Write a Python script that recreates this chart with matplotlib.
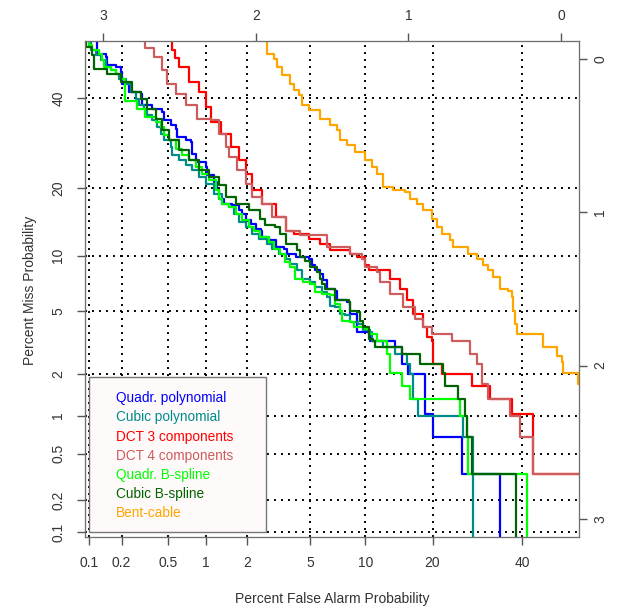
import numpy as np
import matplotlib
matplotlib.use('Agg')
import matplotlib.pyplot as plt
from matplotlib.patches import Rectangle
from statistics import NormalDist

plt.rcParams['font.family'] = ['Liberation Sans', 'DejaVu Sans']

# tick values (percent) on bottom/left, normal deviates on top/right
pct_ticks = [0.1, 0.2, 0.5, 1, 2, 5, 10, 20, 40]
pct_labels = ['0.1', '0.2', '0.5', '1', '2', '5', '10', '20', '40']
dev_ticks = [3, 2, 1, 0]

names = ['Quadr. polynomial', 'Cubic polynomial', 'DCT 3 components', 'DCT 4 components',
         'Quadr. B-spline', 'Cubic B-spline', 'Bent-cable']
colors = ['#0000FF', '#008B8B', '#FF0000', '#CD5C5C', '#00FF00', '#006400', '#FFA500']

# curve vertices as normal deviates: fa read on the top axis, miss on the right axis
quad_poly_fa = [3.048, 3.037, 2.983, 2.971, 2.917, 2.884, 2.873, 2.829, 2.753, 2.742, 2.677, 2.611, 2.600,
                2.557, 2.524, 2.513, 2.459, 2.426, 2.415, 2.393, 2.328, 2.317, 2.273, 2.251, 2.240, 2.208,
                2.153, 2.109, 2.088, 2.066, 2.034, 2.001, 1.968, 1.957, 1.913, 1.870, 1.815, 1.793, 1.739,
                1.654, 1.632, 1.610, 1.577, 1.556, 1.534, 1.479, 1.468, 1.403, 1.381, 1.337, 1.337, 1.294,
                1.250, 1.098, 1.086, 1.054, 1.043, 0.999, 0.890, 0.890, 0.836, 0.836, 0.650, 0.650, 0.399, 0.399]
quad_poly_miss = [-0.2, -0.037, -0.015, 0.039, 0.050, 0.083, 0.159, 0.214, 0.224, 0.301, 0.322, 0.344, 0.399,
                  0.431, 0.453, 0.508, 0.529, 0.541, 0.616, 0.671, 0.704, 0.758, 0.802, 0.856, 0.910, 0.943,
                  0.954, 0.987, 1.008, 1.052, 1.074, 1.107, 1.118, 1.161, 1.183, 1.227, 1.237, 1.270, 1.292,
                  1.303, 1.346, 1.379, 1.401, 1.444, 1.499, 1.510, 1.575, 1.586, 1.662, 1.739, 1.782, 1.782,
                  1.837, 1.837, 1.880, 1.880, 1.989, 2.054, 2.054, 2.314, 2.314, 2.469, 2.469, 2.708, 2.708, 3.5]

cubic_poly_fa = [3.113, 3.081, 3.048, 3.015, 2.983, 2.950, 2.917, 2.895, 2.852, 2.819, 2.786, 2.764, 2.731,
                 2.710, 2.677, 2.644, 2.623, 2.600, 2.557, 2.546, 2.502, 2.459, 2.415, 2.371, 2.328, 2.273,
                 2.219, 2.175, 2.142, 2.109, 2.066, 2.022, 1.979, 1.924, 1.891, 1.848, 1.804, 1.772, 1.730,
                 1.697, 1.643, 1.610, 1.566, 1.534, 1.512, 1.479, 1.446, 1.414, 1.381, 1.327, 1.294, 1.250,
                 1.239, 1.174, 1.163, 1.098, 1.086, 1.054, 1.010, 0.988, 0.967, 0.967, 0.934, 0.934, 0.639,
                 0.639, 0.578, 0.578]
cubic_poly_miss = [-0.2, -0.059, -0.026, 0.007, 0.050, 0.072, 0.093, 0.126, 0.159, 0.214, 0.257, 0.301, 0.322,
                   0.366, 0.399, 0.442, 0.486, 0.529, 0.573, 0.627, 0.660, 0.693, 0.725, 0.769, 0.812, 0.878,
                   0.943, 0.965, 1.008, 1.063, 1.096, 1.139, 1.172, 1.205, 1.237, 1.270, 1.303, 1.335, 1.379,
                   1.433, 1.456, 1.488, 1.521, 1.554, 1.608, 1.619, 1.662, 1.673, 1.717, 1.728, 1.771, 1.782,
                   1.837, 1.837, 1.880, 1.880, 1.924, 1.924, 1.989, 2.054, 2.054, 2.218, 2.218, 2.327, 2.327,
                   2.469, 2.469, 3.5]

dct3_fa = [2.579, 2.546, 2.526, 2.502, 2.437, 2.371, 2.328, 2.295, 2.230, 2.164, 2.109, 2.066, 2.022, 1.957,
           1.870, 1.804, 1.752, 1.654, 1.577, 1.512, 1.381, 1.337, 1.283, 1.261, 1.119, 1.054, 1.010, 0.967,
           0.901, 0.879, 0.846, 0.836, 0.781, 0.781, 0.584, 0.584, 0.465, 0.465, 0.334, 0.323, 0.181, 0.181,
           -0.255]
dct3_miss = [-0.2, -0.059, -0.007, 0.050, 0.148, 0.214, 0.312, 0.410, 0.486, 0.573, 0.660, 0.747, 0.856, 0.943,
             1.031, 1.118, 1.139, 1.172, 1.205, 1.248, 1.270, 1.292, 1.346, 1.379, 1.433, 1.499, 1.575, 1.662,
             1.750, 1.815, 1.837, 1.989, 1.989, 2.054, 2.054, 2.131, 2.131, 2.218, 2.218, 2.316, 2.316, 2.708,
             2.708]

dct4_fa = [2.764, 2.723, 2.666, 2.611, 2.579, 2.524, 2.459, 2.382, 2.295, 2.240, 2.197, 2.175, 2.121, 2.066,
           2.022, 1.957, 1.891, 1.804, 1.708, 1.534, 1.381, 1.304, 1.283, 1.206, 1.185, 1.119, 1.032, 0.956,
           0.901, 0.846, 0.727, 0.715, 0.607, 0.596, 0.563, 0.552, 0.530, 0.519, 0.476, 0.476, 0.345, 0.334,
           0.268, 0.268, 0.181, 0.181, -0.255]
dct4_miss = [-0.2, -0.072, -0.015, 0.072, 0.159, 0.224, 0.301, 0.388, 0.399, 0.486, 0.573, 0.639, 0.725, 0.812,
             0.900, 0.943, 1.031, 1.118, 1.150, 1.227, 1.270, 1.303, 1.358, 1.390, 1.456, 1.531, 1.619, 1.695,
             1.750, 1.793, 1.793, 1.837, 1.837, 1.924, 1.924, 1.989, 1.989, 2.120, 2.120, 2.218, 2.218, 2.327,
             2.327, 2.469, 2.469, 2.708, 2.708]

quad_bspl_fa = [3.117, 3.091, 3.070, 3.026, 3.004, 2.993, 2.950, 2.917, 2.884, 2.854, 2.854, 2.799, 2.777,
                2.723, 2.655, 2.623, 2.600, 2.568, 2.524, 2.481, 2.437, 2.393, 2.350, 2.306, 2.263, 2.240,
                2.219, 2.175, 2.132, 2.088, 2.044, 2.014, 1.970, 1.916, 1.883, 1.839, 1.806, 1.774, 1.741,
                1.687, 1.643, 1.610, 1.566, 1.512, 1.479, 1.446, 1.435, 1.381, 1.359, 1.283, 1.261, 1.206,
                1.152, 1.141, 1.119, 1.119, 1.043, 1.043, 0.999, 0.988, 0.672, 0.661, 0.617, 0.607, 0.224, 0.224]
quad_bspl_miss = [-0.2, -0.092, -0.059, -0.037, 0.007, 0.050, 0.072, 0.093, 0.126, 0.148, 0.273, 0.273, 0.322,
                  0.377, 0.410, 0.442, 0.497, 0.529, 0.584, 0.627, 0.660, 0.704, 0.747, 0.791, 0.856, 0.910,
                  0.943, 0.965, 1.008, 1.052, 1.096, 1.118, 1.161, 1.194, 1.237, 1.270, 1.325, 1.358, 1.433,
                  1.456, 1.466, 1.521, 1.531, 1.542, 1.597, 1.641, 1.706, 1.717, 1.750, 1.760, 1.793, 1.837,
                  1.837, 1.924, 1.989, 2.050, 2.050, 2.131, 2.131, 2.218, 2.218, 2.327, 2.469, 2.708, 2.708, 3.5]

cubic_bspl_fa = [3.117, 3.113, 3.070, 3.058, 2.971, 2.884, 2.808, 2.753, 2.710, 2.655, 2.611, 2.568, 2.502,
                 2.437, 2.371, 2.306, 2.240, 2.197, 2.132, 2.044, 1.970, 1.937, 1.872, 1.839, 1.804, 1.730,
                 1.708, 1.676, 1.643, 1.599, 1.577, 1.566, 1.545, 1.479, 1.392, 1.381, 1.337, 1.316, 1.294,
                 1.261, 1.261, 1.229, 1.217, 1.054, 1.043, 0.934, 0.923, 0.781, 0.770, 0.759, 0.672, 0.672,
                 0.628, 0.617, 0.596, 0.584, 0.295, 0.295]
cubic_bspl_miss = [-0.2, -0.080, -0.026, 0.061, 0.093, 0.148, 0.214, 0.257, 0.322, 0.388, 0.464, 0.529, 0.595,
                   0.660, 0.725, 0.769, 0.824, 0.900, 0.943, 0.987, 1.041, 1.085, 1.096, 1.139, 1.205, 1.248,
                   1.292, 1.314, 1.358, 1.390, 1.433, 1.466, 1.499, 1.575, 1.586, 1.641, 1.652, 1.706, 1.750,
                   1.782, 1.826, 1.837, 1.880, 1.880, 1.924, 1.924, 1.989, 1.989, 2.050, 2.131, 2.131, 2.218,
                   2.327, 2.469, 2.469, 2.708, 2.708, 3.5]

bent_fa = [1.959, 1.926, 1.883, 1.861, 1.828, 1.774, 1.752, 1.719, 1.697, 1.654, 1.577, 1.512, 1.468, 1.446,
           1.403, 1.348, 1.283, 1.239, 1.206, 1.163, 1.163, 1.098, 1.021, 0.988, 0.944, 0.901, 0.846, 0.814,
           0.781, 0.727, 0.705, 0.617, 0.607, 0.552, 0.509, 0.476, 0.443, 0.399, 0.399, 0.345, 0.323, 0.312,
           0.301, 0.290, 0.126, 0.116, 0.039, 0.028, -0.005, -0.015, -0.103, -0.113, -0.255]
bent_miss = [-0.2, -0.037, -0.005, 0.050, 0.105, 0.159, 0.203, 0.235, 0.301, 0.333, 0.388, 0.431, 0.464, 0.529,
             0.562, 0.606, 0.660, 0.704, 0.747, 0.802, 0.835, 0.856, 0.867, 0.910, 0.943, 0.987, 1.041, 1.096,
             1.139, 1.183, 1.227, 1.227, 1.270, 1.303, 1.346, 1.379, 1.423, 1.423, 1.499, 1.510, 1.554, 1.641,
             1.728, 1.793, 1.793, 1.880, 1.880, 1.935, 1.978, 2.050, 2.050, 2.120, 2.229]

curves = [(quad_poly_fa, quad_poly_miss), (cubic_poly_fa, cubic_poly_miss), (dct3_fa, dct3_miss),
          (dct4_fa, dct4_miss), (quad_bspl_fa, quad_bspl_miss), (cubic_bspl_fa, cubic_bspl_miss),
          (bent_fa, bent_miss)]

nd = NormalDist()
def probit(p):
    return nd.inv_cdf(p / 100.0)

fs = 10
fig = plt.figure(figsize=(6.18, 6.07), dpi=100)
ax = fig.add_axes([0.1371, 0.1153, 0.8003, 0.8172])
lim = (-3.12, 0.12)
grid_pos = [probit(p) for p in pct_ticks]
dots = (0, (1, 2.6))
for g in grid_pos:
    ax.axvline(g, color='black', lw=1.4, ls=dots, zorder=1)
    ax.axhline(g, color='black', lw=1.4, ls=dots, zorder=1)

# deviates on the top/right axes run opposite to the probit of the rates
for (fa, miss), c in zip(curves, colors):
    ax.plot(-np.array(fa), -np.array(miss), drawstyle='steps-post', color=c, lw=1.6, zorder=3)

ax.set_xlim(lim)
ax.set_ylim(lim)
ax.set_xticks(grid_pos)
ax.set_xticklabels(pct_labels)
ax.set_yticks(grid_pos)
ax.set_yticklabels(pct_labels, rotation=90, va='center')
ax.tick_params(length=6, width=1, color='#555555', labelcolor='#333333', labelsize=fs, pad=8)
for s in ax.spines.values():
    s.set_color('#707070')

top = ax.twiny()
top.set_xlim(lim)
top.set_xticks([-d for d in dev_ticks])
top.set_xticklabels([str(d) for d in dev_ticks])
top.tick_params(length=6, width=1, color='#555555', labelcolor='#333333', labelsize=fs, pad=7)

right = ax.twinx()
right.set_ylim(lim)
right.set_yticks([-d for d in dev_ticks])
right.set_yticklabels([str(d) for d in dev_ticks], rotation=90, va='center')
right.tick_params(length=6, width=1, color='#555555', labelcolor='#333333', labelsize=fs, pad=4)
for a in (top, right):
    for s in a.spines.values():
        s.set_color('#707070')

# legend box
ax.add_patch(Rectangle((0.0093, 0.0107), 0.3573, 0.3113, transform=ax.transAxes,
                       facecolor='#FFFAFA', edgecolor='#777777', lw=1, zorder=5))
for i, (n, c) in enumerate(zip(names, colors)):
    ax.text(0.0633, 0.2796 - i * 0.0386, n, color=c, transform=ax.transAxes,
            va='center', fontsize=9.8, zorder=6)

fig.text(0.5372, 0.0132, 'Percent False Alarm Probability', ha='center', va='center',
         fontsize=fs, color='#333333')
fig.text(0.0485, 0.522, 'Percent Miss Probability', ha='center', va='center', rotation=90,
         fontsize=fs, color='#333333')

fig.savefig('out.png', dpi=100)
